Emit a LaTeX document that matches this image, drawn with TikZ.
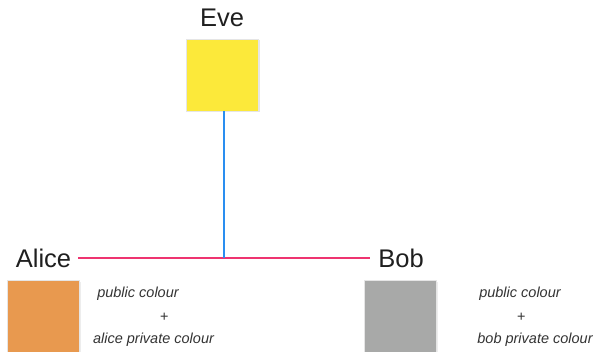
\documentclass[tikz,border=0pt]{standalone}
\usepackage{fontspec}
\setmainfont{Liberation Sans}
\definecolor{evey}{HTML}{FCE93A}
\definecolor{aliceo}{HTML}{E8994F}
\definecolor{bobg}{HTML}{A8A9A8}
\definecolor{pinkl}{HTML}{EE3470}
\definecolor{bluel}{HTML}{2A8EF0}
\begin{document}
\begin{tikzpicture}[x=1pt,y=-1pt,
  sq/.style={minimum size=72pt,inner sep=0pt,outer sep=0pt,draw=black!10,line width=0.4pt},
  lbl/.style={font=\fontsize{25.5}{26}\selectfont,text=black!88,inner sep=0pt,anchor=base},
  note/.style={font=\fontsize{14.5}{15}\selectfont\itshape,text=black!80,inner sep=0pt,anchor=base}]
\useasboundingbox (0,0) rectangle (596,352);
% squares with soft shadow
\fill[black!10] (187.5,40.5) rectangle (259.5,112.5);
\node[sq,fill=evey] (eve) at (222,75) {};
\fill[black!7] (8.5,281.5) rectangle (80.5,353.5);
\node[sq,fill=aliceo] (alicebox) at (43,316) {};
\fill[black!7] (365.5,281.5) rectangle (437.5,353.5);
\node[sq,fill=bobg] (bobbox) at (400,316) {};
% labels
\node[lbl] (evet) at (222,27) {Eve};
\node[lbl] (alice) at (43.5,267) {Alice};
\node[lbl] (bob) at (401,267) {Bob};
% connectors
\coordinate (aL) at (78,258);
\coordinate (bR) at (370,258);
\coordinate (j) at (224,258);
\coordinate (eb) at (224,111);
\draw[pinkl,line width=1.2pt] (aL) -- (bR);
\draw[bluel,line width=1.1pt] (eb) -- (j);
% notes
\node[note] (a1) at (138,298) {public colour};
\node[note] (a2) at (164,321) {+};
\node[note] (a3) at (153.5,343) {alice private colour};
\node[note] (b1) at (520,298) {public colour};
\node[note] (b2) at (521,321) {+};
\node[note] (b3) at (535,343) {bob private colour};
\end{tikzpicture}
\end{document}
